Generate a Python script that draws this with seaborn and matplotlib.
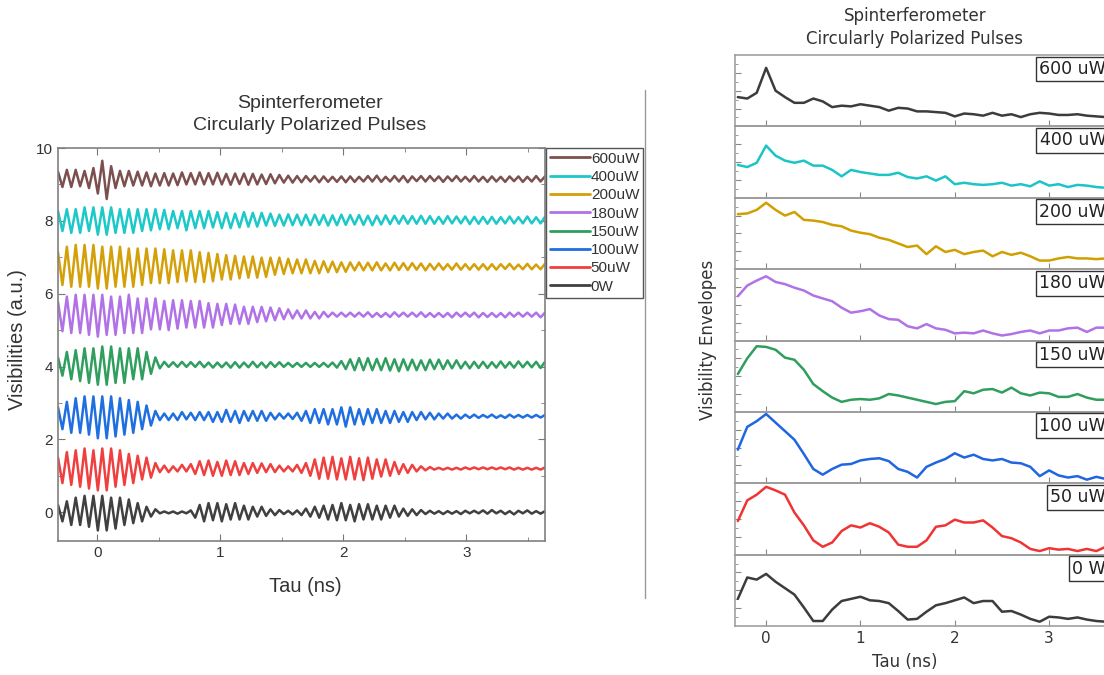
import numpy as np
import pandas as pd
import matplotlib
matplotlib.use('Agg')
import matplotlib.pyplot as plt
import seaborn as sns
from matplotlib.lines import Line2D
from matplotlib.ticker import MultipleLocator

sns.set_style('ticks')
plt.rcParams['font.family'] = ['Liberation Sans', 'DejaVu Sans']

# ---- left panel: raw visibilities (deviation from baseline, units of 0.01 a.u.)
powers = ['600uW', '400uW', '200uW', '180uW', '150uW', '100uW', '50uW', '0W']
baseline = [9.15, 8.02, 6.74, 5.42, 4.05, 2.63, 1.20, 0.0]
# sample grid for the interferograms (ns)
tau = np.round(-0.32 + 0.036 * np.arange(111), 3)

vis_600 = [20, -22, 25, -22, 25, -20, 22, -25, 30, -40,
           50, -55, 35, -25, 22, -20, 22, -18, 20, -18,
           18, -20, 15, -18, 16, -18, 15, -17, 18, -15,
           16, -15, 18, -15, 16, -15, 17, -15, 14, -16,
           15, -14, 15, -16, 14, -15, 12, -14, 13, -12,
           11, -10, 9, -10, 8, -9, 8, -7, 8, -9,
           7, -8, 6, -8, 7, -9, 7, -8, 6, -7,
           8, -7, 9, -8, 6, -7, 8, -7, 8, -9,
           7, -6, 8, -7, 8, -6, 7, -8, 7, -6,
           8, -7, 6, -7, 8, -7, 6, -8, 7, -7,
           6, -8, 7, -6, 7, -8, 6, -7, 8, -7,
           7]
vis_400 = [25, -30, 30, -35, 30, -35, 35, -30, 35, -40,
           35, -40, 35, -35, 30, -35, 30, -35, 30, -30,
           30, -28, 30, -25, 28, -25, 25, -22, 25, -28,
           25, -22, 25, -22, 25, -20, 22, -22, 20, -22,
           18, -20, 22, -18, 20, -18, 20, -15, 18, -16,
           15, -15, 16, -14, 15, -14, 15, -14, 15, -13,
           14, -15, 13, -14, 15, -13, 14, -12, 14, -13,
           12, -14, 12, -12, 13, -11, 12, -10, 12, -10,
           11, -10, 12, -10, 11, -10, 9, -10, 11, -9,
           10, -9, 10, -11, 9, -10, 9, -10, 9, -10,
           8, -9, 10, -9, 8, -9, 10, -9, 8, -9,
           9]
vis_200 = [40, -50, 55, -55, 60, -55, 60, -55, 60, -60,
           55, -60, 55, -55, 55, -55, 50, -55, 50, -50,
           50, -45, 50, -45, 48, -45, 45, -42, 45, -40,
           45, -42, 40, -42, 38, -40, 35, -35, 32, -35,
           30, -32, 28, -30, 28, -30, 25, -28, 25, -22,
           25, -20, 22, -18, 20, -18, 20, -18, 16, -18,
           15, -15, 14, -15, 12, -14, 12, -10, 12, -10,
           11, -10, 12, -10, 9, -10, 11, -9, 10, -9,
           10, -8, 9, -10, 8, -8, 9, -8, 7, -8,
           9, -8, 7, -8, 7, -8, 7, -8, 7, -8,
           7, -6, 8, -7, 6, -7, 8, -7, 6, -7,
           8]
vis_180 = [35, -45, 50, -50, 55, -50, 55, -55, 55, -60,
           55, -55, 50, -55, 50, -50, 55, -50, 45, -50,
           45, -40, 45, -40, 38, -42, 40, -38, 40, -35,
           38, -35, 38, -35, 32, -35, 30, -28, 30, -25,
           28, -25, 22, -25, 22, -20, 22, -18, 20, -15,
           18, -12, 15, -10, 12, -10, 12, -10, 8, -10,
           8, -6, 6, -5, 6, -5, 6, -5, 6, -5,
           7, -6, 5, -6, 5, -6, 7, -5, 6, -5,
           6, -5, 7, -6, 5, -6, 5, -6, 5, -7,
           6, -5, 6, -5, 6, -7, 5, -6, 5, -6,
           5, -7, 6, -5, 6, -5, 6, -5, 6, -7,
           6]
vis_150 = [20, -30, 35, -40, 40, -45, 45, -50, 45, -55,
           50, -55, 50, -50, 45, -50, 45, -40, 45, -40,
           35, -25, 20, -10, 8, -6, 7, -6, 8, -6,
           7, -6, 8, -7, 6, -8, 6, -7, 6, -8,
           7, -8, 6, -7, 8, -7, 6, -8, 7, -6,
           7, -6, 5, -6, 5, -6, 5, -6, 5, -6,
           5, -6, 6, -8, 10, -12, 15, -15, 18, -15,
           18, -15, 16, -15, 18, -16, 15, -18, 15, -15,
           14, -15, 12, -15, 14, -12, 14, -12, 12, -10,
           12, -10, 8, -10, 8, -9, 8, -9, 7, -8,
           9, -8, 7, -8, 9, -7, 8, -7, 8, -9,
           8]
vis_100 = [25, -35, 40, -45, 50, -45, 55, -50, 55, -60,
           55, -60, 55, -55, 50, -50, 45, -45, 40, -35,
           30, -25, 15, -10, 8, -10, 8, -10, 12, -8,
           10, -10, 12, -10, 12, -15, 12, -15, 18, -15,
           15, -18, 15, -12, 15, -12, 15, -12, 10, -8,
           8, -6, 8, -7, 10, -12, 15, -18, 20, -18,
           20, -22, 20, -22, 25, -28, 25, -22, 20, -22,
           20, -18, 20, -18, 15, -18, 15, -15, 12, -15,
           12, -10, 12, -8, 10, -8, 8, -6, 8, -6,
           5, -6, 5, -4, 5, -4, 4, -3, 5, -4,
           3, -4, 5, -3, 4, -3, 4, -3, 4, -3,
           4]
vis_50 = [30, -40, 45, -45, 50, -50, 55, -55, 50, -60,
          55, -60, 55, -50, 50, -45, 40, -40, 35, -30,
          30, -25, 15, -10, 8, -10, 6, -8, 10, -8,
          12, -15, 20, -18, 22, -20, 18, -20, 22, -18,
          20, -18, 15, -15, 15, -12, 14, -10, 12, -10,
          8, -8, 6, -8, 10, -12, 15, -20, 25, -28,
          30, -28, 32, -30, 28, -30, 32, -30, 28, -32,
          30, -28, 25, -22, 25, -20, 18, -15, 12, -12,
          10, -8, 6, -5, 4, -3, 2, -3, 2, -3,
          2, -3, 3, -2, 3, -2, 3, -2, 3, -2,
          3, -2, 3, -3, 2, -3, 2, -3, 2, -3,
          3]
vis_0 = [20, -25, 30, -35, 40, -35, 45, -40, 45, -50,
         45, -50, 40, -45, 40, -35, 35, -30, 25, -25,
         15, -12, 8, -3, 2, -3, 2, -4, 2, -3,
         5, -15, 20, -25, 25, -22, 25, -25, 22, -20,
         25, -20, 18, -20, 15, -12, 15, -10, 8, -8,
         6, -5, 4, -6, 5, -8, 10, -12, 15, -15,
         18, -20, 20, -22, 25, -22, 20, -25, 22, -20,
         22, -20, 18, -20, 18, -15, 18, -12, 10, -10,
         8, -8, 6, -5, 4, -4, 3, -5, 3, -4,
         3, -5, 4, -3, 4, -3, 5, -4, 6, -3,
         4, -5, 3, -6, 4, -3, 5, -4, 3, -4,
         3]
vis_all = [vis_600, vis_400, vis_200, vis_180, vis_150, vis_100, vis_50, vis_0]

# ---- right panel: visibility envelopes (normalised within each row)
env_labels = ['600 uW', '400 uW', '200 uW', '180 uW', '150 uW', '100 uW', '50 uW', '0 W']
env_tau = np.round(np.arange(41) * 0.1 - 0.3, 2)
env_600 = [0.41, 0.39, 0.47, 0.82, 0.50, 0.41, 0.33, 0.33, 0.39, 0.35,
           0.27, 0.29, 0.28, 0.31, 0.29, 0.27, 0.22, 0.26, 0.25, 0.21,
           0.21, 0.20, 0.19, 0.14, 0.18, 0.17, 0.15, 0.19, 0.15, 0.17,
           0.13, 0.17, 0.19, 0.18, 0.16, 0.16, 0.17, 0.15, 0.14, 0.13, 0.13]
env_400 = [0.46, 0.43, 0.49, 0.73, 0.59, 0.52, 0.49, 0.52, 0.45, 0.45,
           0.39, 0.30, 0.39, 0.36, 0.34, 0.32, 0.32, 0.35, 0.29, 0.27,
           0.30, 0.24, 0.30, 0.19, 0.21, 0.19, 0.18, 0.19, 0.21, 0.17,
           0.19, 0.16, 0.23, 0.17, 0.19, 0.15, 0.18, 0.17, 0.15, 0.14, 0.14]
env_200 = [0.77, 0.78, 0.83, 0.93, 0.83, 0.75, 0.80, 0.69, 0.68, 0.66,
           0.62, 0.60, 0.54, 0.51, 0.49, 0.44, 0.41, 0.36, 0.31, 0.33,
           0.21, 0.32, 0.24, 0.27, 0.21, 0.24, 0.26, 0.18, 0.24, 0.20,
           0.23, 0.18, 0.12, 0.12, 0.15, 0.17, 0.15, 0.15, 0.14, 0.15, 0.15]
env_180 = [0.62, 0.77, 0.84, 0.90, 0.82, 0.79, 0.74, 0.70, 0.63, 0.59,
           0.55, 0.46, 0.39, 0.41, 0.44, 0.35, 0.30, 0.29, 0.20, 0.17,
           0.23, 0.17, 0.15, 0.10, 0.11, 0.10, 0.14, 0.10, 0.07, 0.09,
           0.12, 0.14, 0.10, 0.14, 0.14, 0.17, 0.18, 0.12, 0.18, 0.18, 0.18]
env_150 = [0.53, 0.75, 0.92, 0.91, 0.87, 0.76, 0.73, 0.59, 0.39, 0.29,
           0.20, 0.14, 0.17, 0.18, 0.17, 0.19, 0.25, 0.23, 0.20, 0.17,
           0.14, 0.11, 0.14, 0.15, 0.29, 0.26, 0.31, 0.32, 0.27, 0.34,
           0.26, 0.23, 0.27, 0.26, 0.21, 0.21, 0.25, 0.20, 0.17, 0.17, 0.17]
env_100 = [0.47, 0.79, 0.87, 0.97, 0.85, 0.73, 0.61, 0.41, 0.20, 0.12,
           0.20, 0.26, 0.27, 0.32, 0.34, 0.35, 0.31, 0.20, 0.16, 0.08,
           0.23, 0.29, 0.34, 0.42, 0.36, 0.40, 0.34, 0.32, 0.34, 0.29,
           0.28, 0.23, 0.10, 0.18, 0.11, 0.08, 0.10, 0.05, 0.09, 0.06, 0.06]
env_50 = [0.47, 0.76, 0.84, 0.95, 0.90, 0.84, 0.59, 0.41, 0.20, 0.11,
          0.17, 0.33, 0.41, 0.38, 0.44, 0.39, 0.31, 0.14, 0.11, 0.11,
          0.20, 0.39, 0.41, 0.49, 0.45, 0.45, 0.48, 0.38, 0.26, 0.23,
          0.17, 0.08, 0.05, 0.09, 0.07, 0.08, 0.05, 0.08, 0.05, 0.11, 0.11]
env_0 = [0.38, 0.68, 0.65, 0.73, 0.62, 0.53, 0.44, 0.26, 0.07, 0.07,
         0.23, 0.35, 0.38, 0.41, 0.36, 0.35, 0.32, 0.21, 0.09, 0.10,
         0.20, 0.29, 0.32, 0.36, 0.40, 0.32, 0.35, 0.35, 0.20, 0.21,
         0.16, 0.10, 0.06, 0.13, 0.12, 0.10, 0.12, 0.09, 0.07, 0.06, 0.06]
env_all = [env_600, env_400, env_200, env_180, env_150, env_100, env_50, env_0]

left_colors = ['#7d5050', '#1cc8c8', '#d4a00a', '#b072e6', '#2f9e5e', '#1f6fe0', '#f03f3f', '#404040']
right_colors = ['#3c3c3c', '#1cc4c8', '#d0a000', '#b072e6', '#2f9e5e', '#1f66e0', '#f03434', '#3c3c3c']

W, H = 1104, 675
fig = plt.figure(figsize=(W / 100, H / 100), dpi=100)


def fx(px):
    return px / W


def fy(px):
    return 1 - px / H


# ---------------- left panel ----------------
frames = []
for name, vals, base in zip(powers, vis_all, baseline):
    frames.append(pd.DataFrame({'tau': tau, 'vis': base + np.array(vals) / 100.0, 'power': name}))
df = pd.concat(frames, ignore_index=True)

ax = fig.add_axes([fx(58), fy(541), fx(545 - 58), (541 - 148) / H])
sns.lineplot(data=df, x='tau', y='vis', hue='power', hue_order=powers,
             palette=dict(zip(powers, left_colors)), estimator=None, sort=False,
             lw=1.8, ax=ax)
ax.set_xlim(-0.32, 3.64)
ax.set_ylim(-0.79, 10.0)
ax.xaxis.set_major_locator(MultipleLocator(1))
ax.xaxis.set_minor_locator(MultipleLocator(0.5))
ax.yaxis.set_major_locator(MultipleLocator(2))
ax.yaxis.set_minor_locator(MultipleLocator(1))
ax.tick_params(which='both', direction='in', top=True, right=True, color='#777777',
               labelsize=11, labelcolor='#333333')
ax.tick_params(which='major', length=5)
ax.tick_params(which='minor', length=3)
ax.set_xlabel('')
ax.set_ylabel('')
for s in ax.spines.values():
    s.set_color('#808080')
    s.set_linewidth(1.2)

handles, labels = ax.get_legend_handles_labels()
leg = ax.legend(handles, labels, loc='upper left', bbox_to_anchor=(1.003, 1.0),
                borderaxespad=0, frameon=True, fancybox=False, framealpha=1,
                edgecolor='#555555', fontsize=11, handlelength=2.6, handletextpad=0.05,
                labelspacing=0.28, borderpad=0.25)
for ln in leg.get_lines():
    ln.set_linewidth(2)
for t in leg.get_texts():
    t.set_color('#333333')

fig.text(fx(310), fy(103), 'Spinterferometer', ha='center', va='center', fontsize=14, color='#333333')
fig.text(fx(310), fy(126), 'Circularly Polarized Pulses', ha='center', va='center', fontsize=14, color='#333333')
fig.text(fx(305), fy(587), 'Tau (ns)', ha='center', va='center', fontsize=14.5, color='#333333')
fig.text(fx(18), fy(340), 'Visibilities (a.u.)', ha='center', va='center', rotation=90,
         fontsize=14.5, color='#333333')

# divider
fig.add_artist(Line2D([fx(645), fx(645)], [fy(90), fy(598)], color='#999999', lw=1))

# ---------------- right panel ----------------
rfont = ['DejaVu Sans']
top_px, bot_px = 55, 626
row_h = (bot_px - top_px) / len(env_all)
for i, (lab, env, c) in enumerate(zip(env_labels, env_all, right_colors)):
    y0 = top_px + (i + 1) * row_h
    axr = fig.add_axes([fx(735), fy(y0), fx(1118 - 735), row_h / H])
    axr.patch.set_alpha(0)
    sns.lineplot(x=env_tau, y=env, color=c, lw=1.8, ax=axr)
    axr.set_xlim(-0.33, 3.73)
    axr.set_ylim(0, 1)
    axr.set_xticks([0, 1, 2, 3])
    axr.set_yticks([0.25, 0.5, 0.75])
    axr.set_yticks([0.125, 0.375, 0.625, 0.875], minor=True)
    axr.tick_params(which='both', direction='in', color='#888888', labelleft=False,
                    labelbottom=(i == len(env_all) - 1), labelsize=11, labelcolor='#333333')
    axr.tick_params(which='major', length=4)
    axr.tick_params(which='minor', length=2.5)
    for lbl in axr.get_xticklabels():
        lbl.set_family(rfont)
    axr.spines['right'].set_visible(False)
    for s in axr.spines.values():
        s.set_color('#999999')
        s.set_linewidth(1.1)
    axr.text((1106 - 735) / (1118 - 735), 1 - 5 / row_h, lab, transform=axr.transAxes,
             ha='right', va='top', fontsize=12.5, family=rfont, color='#222222',
             bbox=dict(boxstyle='square,pad=0.2', fc='white', ec='#333333', lw=1))

fig.text(fx(915), fy(16), 'Spinterferometer', ha='center', va='center', fontsize=12,
         family=rfont, color='#333333')
fig.text(fx(915), fy(39), 'Circularly Polarized Pulses', ha='center', va='center', fontsize=12,
         family=rfont, color='#333333')
fig.text(fx(905), fy(662), 'Tau (ns)', ha='center', va='center', fontsize=12,
         family=rfont, color='#333333')
fig.text(fx(708), fy(340), 'Visibility Envelopes', ha='center', va='center', rotation=90,
         fontsize=12, family=rfont, color='#333333')

fig.savefig('out.png', dpi=100)
